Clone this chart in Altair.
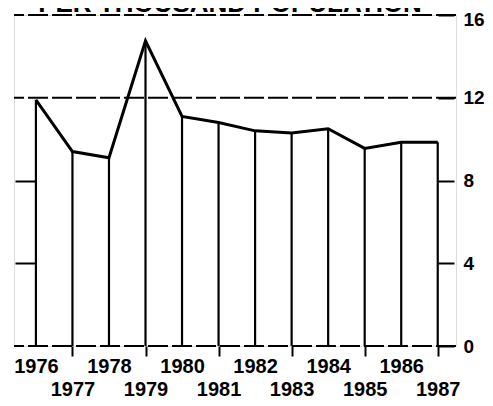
import altair as alt
import pandas as pd

years = [1976, 1977, 1978, 1979, 1980, 1981, 1982, 1983, 1984, 1985, 1986, 1987]
rates = [11.9, 9.4, 9.1, 14.75, 11.1, 10.8, 10.4, 10.3, 10.5, 9.55, 9.85, 9.85]
grid_values = [0, 12, 16]
y_ticks = [0, 4, 8, 12, 16]
side_ticks = [4, 8]
title_text = "PER THOUSAND POPULATION"

df = pd.DataFrame({"year": years, "rate": rates})
grid_df = pd.DataFrame({"v": grid_values})

FONT = "Liberation Sans"

xscale = alt.Scale(domain=[1975.4, 1987.5], nice=False, zero=False)
yscale = alt.Scale(domain=[0, 16], nice=False)

xaxis = alt.Axis(
    values=years, format="d", title=None, domain=False, grid=False,
    tickSize=10, tickWidth=2, tickColor="black",
    tickOpacity={"condition": {"test": "datum.value % 2 == 1", "value": 1}, "value": 0},
    labelExpr="datum.value % 2 == 0 ? datum.label : ['', datum.label]",
    labelLineHeight=23, labelPadding=0, labelBaseline="top",
    labelFont=FONT, labelFontSize=20, labelFontWeight="bold", labelColor="black",
    labelAngle=0, labelOverlap=False, labelFlush=False, labelBound=False,
)

right_axis = alt.Axis(
    orient="right", values=y_ticks, title=None, domain=False, grid=False,
    offset=-18, tickSize=16, tickWidth=2, tickColor="black",
    labelPadding=9, labelFont=FONT, labelFontSize=19, labelFontWeight="bold",
    labelColor="black", labelBaseline="middle", labelOverlap=False, labelFlush=False,
    labelBound=False,
    labelOffset={"condition": {"test": "datum.value == 16", "value": 4}, "value": 0},
)

left_axis = alt.Axis(
    orient="left", values=side_ticks, title=None, domain=False, grid=False,
    labels=False, offset=-21, tickSize=20, tickWidth=2, tickColor="black",
)

grid = alt.Chart(grid_df).mark_rule(
    color="black", strokeWidth=2, strokeDash=[20, 4]
).encode(y=alt.Y("v:Q", scale=yscale, axis=None))

drops = alt.Chart(df).mark_rule(color="black", strokeWidth=2.2).encode(
    x=alt.X("year:Q", scale=xscale, axis=xaxis),
    y=alt.Y("rate:Q", scale=yscale, axis=left_axis),
    y2=alt.datum(0),
)

line = alt.Chart(df).mark_line(color="black", strokeWidth=3).encode(
    x=alt.X("year:Q", scale=xscale, axis=xaxis),
    y=alt.Y("rate:Q", scale=yscale, axis=right_axis),
)

title = alt.Chart(pd.DataFrame({"t": [title_text]})).mark_text(
    font=FONT, fontSize=26, fontWeight="bold", color="black",
    align="center", baseline="alphabetic",
).encode(text="t:N", x=alt.value(216), y=alt.value(-3))

chart = alt.layer(grid, drops, line, title).resolve_axis(y="independent").properties(
    width=442,
    height=331,
    autosize=alt.AutoSizeParams(type="none"),
    padding={"left": 6, "top": 7, "right": 29, "bottom": 52},
).configure_view(stroke=None).configure(background="white")

chart.save("out.html", embed_options={"renderer": "svg", "actions": False})
